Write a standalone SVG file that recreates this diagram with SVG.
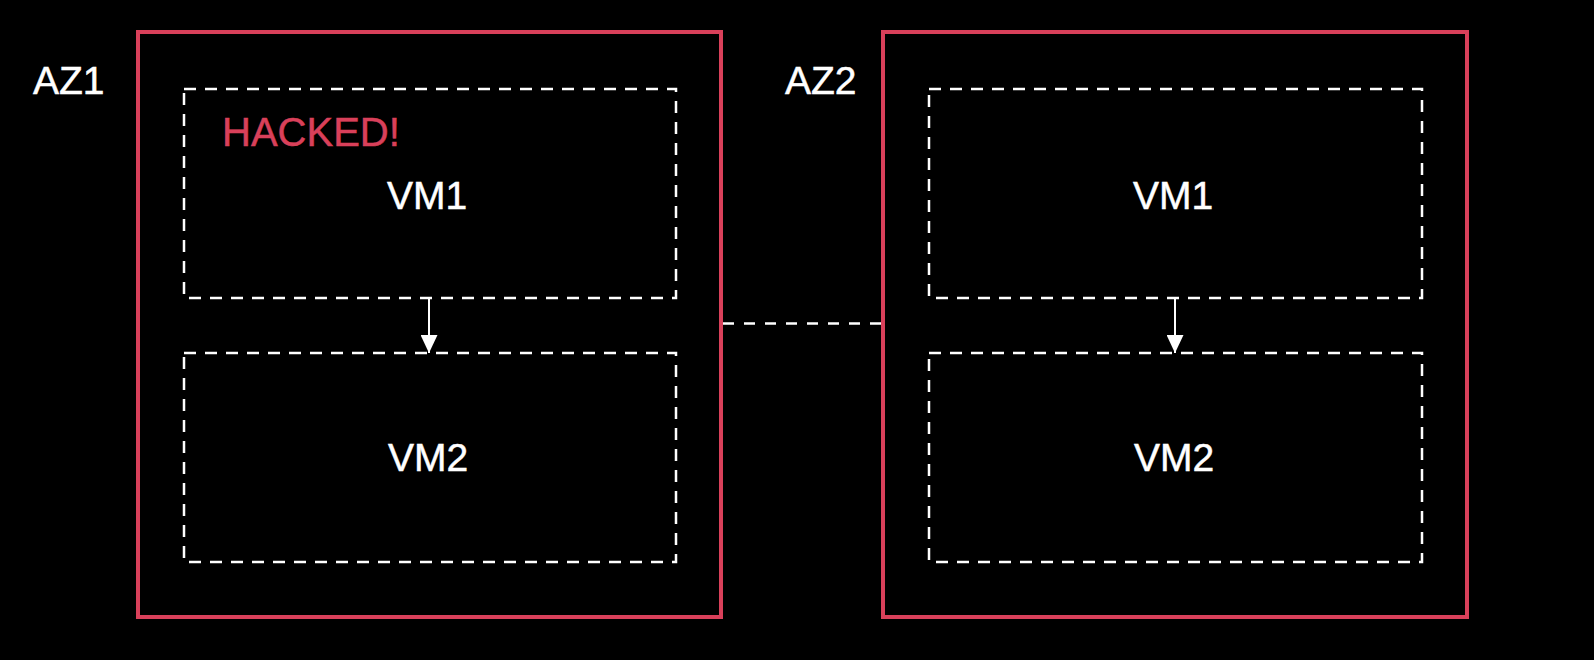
<svg xmlns="http://www.w3.org/2000/svg" width="1594" height="660" viewBox="0 0 1594 660">
<defs>
<style>
.az{fill:none;stroke:#d9405a;stroke-width:4}
.vm{fill:none;stroke:#ffffff;stroke-width:2.5;stroke-dasharray:12 9}
.lbl{font-family:"Liberation Sans",Arial,sans-serif;font-size:39px;fill:#ffffff;stroke:#ffffff;stroke-width:0.5}
.vmt{font-family:"Liberation Sans",Arial,sans-serif;font-size:39px;fill:#ffffff;stroke:#ffffff;stroke-width:0.5;text-anchor:middle}
.hack{font-family:"Liberation Sans",Arial,sans-serif;font-size:40px;fill:#d9405a;stroke:#d9405a;stroke-width:0.5}
.arr{stroke:#ffffff;stroke-width:2;fill:none}
.link{stroke:#ffffff;stroke-width:2.5;stroke-dasharray:11 10;fill:none}
</style>
<marker id="ah" markerWidth="18" markerHeight="17" refX="18" refY="8.5" orient="auto" markerUnits="userSpaceOnUse">
<path d="M0,0 L18,8.5 L0,17 Z" fill="#ffffff"/>
</marker>
</defs>
<rect x="0" y="0" width="1594" height="660" fill="#000000"/>
<g id="az1">
<rect class="az" x="138" y="32" width="583" height="585"/>
<text class="lbl" x="33" y="94">AZ1</text>
</g>
<g id="az1-vm1">
<rect class="vm" x="184" y="89" width="492" height="209"/>
<text class="hack" x="222" y="146">HACKED!</text>
<text class="vmt" x="427" y="209">VM1</text>
</g>
<g id="az1-vm2">
<rect class="vm" x="184" y="353" width="492" height="209"/>
<text class="vmt" x="428" y="471">VM2</text>
</g>
<g id="az2">
<rect class="az" x="883" y="32" width="584" height="585"/>
<text class="lbl" x="785" y="94">AZ2</text>
</g>
<g id="az2-vm1">
<rect class="vm" x="929" y="89" width="493" height="209"/>
<text class="vmt" x="1173" y="209">VM1</text>
</g>
<g id="az2-vm2">
<rect class="vm" x="929" y="353" width="493" height="209"/>
<text class="vmt" x="1174" y="471">VM2</text>
</g>
<g id="connectors">
<line class="arr" x1="429" y1="299" x2="429" y2="353" marker-end="url(#ah)"/>
<line class="arr" x1="1175" y1="299" x2="1175" y2="353" marker-end="url(#ah)"/>
<line class="link" x1="723" y1="323.5" x2="881" y2="323.5"/>
</g>
</svg>
